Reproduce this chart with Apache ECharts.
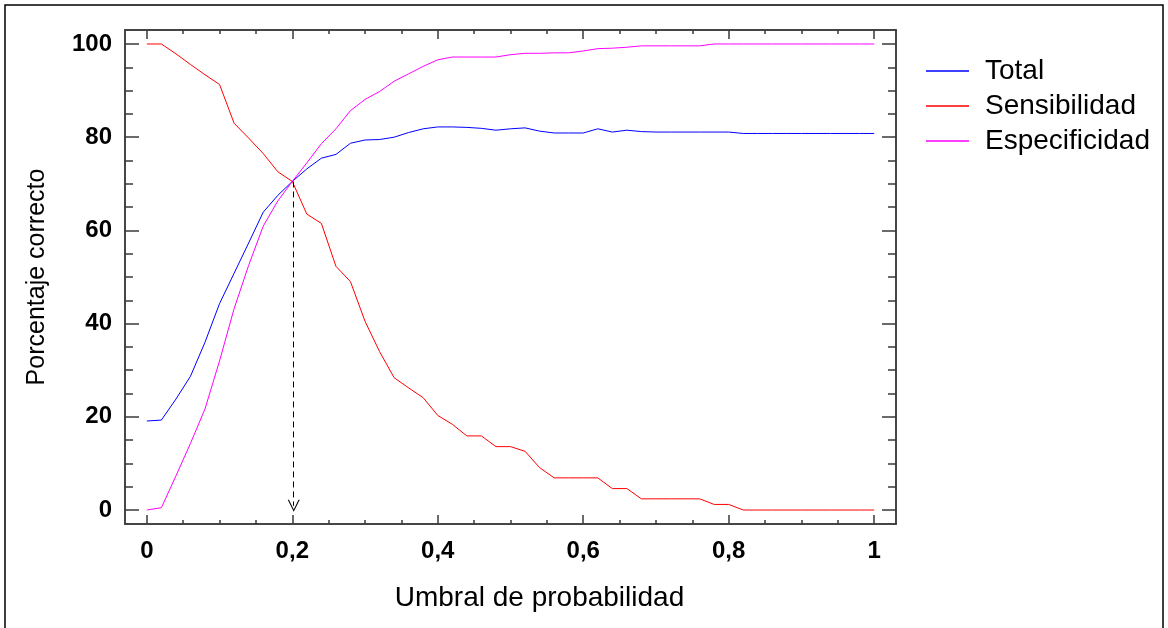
<!DOCTYPE html>
<html>
<head>
<meta charset="utf-8">
<script src="https://cdn.jsdelivr.net/npm/echarts@6/dist/echarts.min.js"></script>
<style>
  html, body { margin: 0; padding: 0; background: #fff; }
  #chart { width: 1168px; height: 628px; }
</style>
</head>
<body>
<div id="chart"></div>
<script>
var umbral = [0, 0.02, 0.04, 0.06, 0.08, 0.1, 0.12, 0.14, 0.16, 0.18,
  0.2, 0.22, 0.24, 0.26, 0.28, 0.3, 0.32, 0.34, 0.36, 0.38,
  0.4, 0.42, 0.44, 0.46, 0.48, 0.5, 0.52, 0.54, 0.56, 0.58,
  0.6, 0.62, 0.64, 0.66, 0.68, 0.7, 0.72, 0.74, 0.76, 0.78,
  0.8, 0.82, 0.84, 0.86, 0.88, 0.9, 0.92, 0.94, 0.96, 0.98, 1];

var total = [19.1, 19.3, 23.8, 28.7, 36.0, 44.3, 50.8, 57.3, 63.9, 67.5,
  70.5, 73.2, 75.5, 76.3, 78.7, 79.4, 79.5, 80.0, 81.0, 81.8,
  82.2, 82.2, 82.1, 81.9, 81.5, 81.8, 82.0, 81.3, 80.9, 80.9,
  80.9, 81.8, 81.1, 81.5, 81.2, 81.1, 81.1, 81.1, 81.1, 81.1,
  81.1, 80.8, 80.8, 80.8, 80.8, 80.8, 80.8, 80.8, 80.8, 80.8, 80.8];

var sensibilidad = [100, 100, 97.9, 95.6, 93.4, 91.3, 83.0, 79.8, 76.5, 72.6,
  70.5, 63.5, 61.5, 52.3, 49.0, 40.5, 34.0, 28.4, 26.2, 24.1,
  20.3, 18.4, 15.9, 15.9, 13.6, 13.6, 12.6, 9.1, 6.9, 6.9,
  6.9, 6.9, 4.6, 4.6, 2.4, 2.4, 2.4, 2.4, 2.4, 1.2,
  1.2, 0, 0, 0, 0, 0, 0, 0, 0, 0, 0];

var especificidad = [0, 0.5, 7.3, 14.3, 21.7, 32.0, 43.2, 52.5, 60.9, 66.3,
  70.5, 74.5, 78.6, 81.8, 85.7, 88.1, 89.8, 92.0, 93.6, 95.2,
  96.6, 97.2, 97.2, 97.2, 97.2, 97.7, 98.0, 98.0, 98.1, 98.1,
  98.5, 99.0, 99.1, 99.3, 99.6, 99.6, 99.6, 99.6, 99.6, 100,
  100, 100, 100, 100, 100, 100, 100, 100, 100, 100, 100];

// tick positions
var xMajor = [0, 0.2, 0.4, 0.6, 0.8, 1];
var xMinor = [0, 0.05, 0.1, 0.15, 0.2, 0.25, 0.3, 0.35, 0.4, 0.45, 0.5,
  0.55, 0.6, 0.65, 0.7, 0.75, 0.8, 0.85, 0.9, 0.95, 1];
var yMajor = [0, 20, 40, 60, 80, 100];
var yMinor = [0, 5, 10, 15, 20, 25, 30, 35, 40, 45, 50, 55, 60, 65, 70, 75, 80, 85, 90, 95, 100];

// dashed arrow from the crossing point down to the axis
var corte = { x: 0.202, yTop: 70.5, yBottom: 0.9 };

function pairs(ys) {
  return ys.map(function (v, i) { return [umbral[i], v]; });
}

var font = "'Liberation Sans', Arial, sans-serif";
var axisColor = '#3a3a3a';

function xAx(pos, ticks, len, labels) {
  return {
    type: 'value', position: pos, min: -0.03, max: 1.03,
    axisLine: { show: true, onZero: false, lineStyle: { color: axisColor, width: 1.5 } },
    axisTick: { show: true, inside: true, length: len, customValues: ticks, lineStyle: { color: axisColor, width: 1.5 } },
    axisLabel: labels ? {
      show: true, customValues: ticks, margin: 15, color: '#000',
      fontFamily: font, fontWeight: 'bold', fontSize: 24,
      formatter: function (v) { return String(v).replace('.', ','); }
    } : { show: false },
    splitLine: { show: false }
  };
}
function yAx(pos, ticks, len, labels) {
  return {
    type: 'value', position: pos, min: -3, max: 103,
    axisLine: { show: true, onZero: false, lineStyle: { color: axisColor, width: 1.5 } },
    axisTick: { show: true, inside: true, length: len, customValues: ticks, lineStyle: { color: axisColor, width: 1.5 } },
    axisLabel: labels ? {
      show: true, customValues: ticks, margin: 13, color: '#000',
      fontFamily: font, fontWeight: 'bold', fontSize: 24
    } : { show: false },
    splitLine: { show: false }
  };
}

var xAxes = [
  xAx('bottom', xMajor, 9, true),
  xAx('bottom', xMinor, 4, false),
  xAx('top', xMajor, 9, false),
  xAx('top', xMinor, 4, false)
];
xAxes[0].name = 'Umbral de probabilidad';
xAxes[0].nameLocation = 'middle';
xAxes[0].nameGap = 60;
xAxes[0].nameTextStyle = { fontFamily: font, fontSize: 28, color: '#000', padding: [0, 0, 0, 58] };

var yAxes = [
  yAx('left', yMajor, 14, true),
  yAx('left', yMinor, 8, false),
  yAx('right', yMajor, 14, false),
  yAx('right', yMinor, 8, false)
];
yAxes[0].name = 'Porcentaje correcto';
yAxes[0].nameLocation = 'middle';
yAxes[0].nameGap = 75;
yAxes[0].nameTextStyle = { fontFamily: font, fontSize: 25, color: '#000' };

var chart = echarts.init(document.getElementById('chart'));
chart.setOption({
  animation: false,
  backgroundColor: '#fff',
  grid: { left: 125, top: 30, right: 272, bottom: 104 },
  xAxis: xAxes,
  yAxis: yAxes,
  legend: {
    data: ['Total', 'Sensibilidad', 'Especificidad'],
    orient: 'vertical', left: 921, top: 52,
    icon: 'rect', itemWidth: 43, itemHeight: 1.5, itemGap: 7,
    textStyle: { fontFamily: font, fontSize: 28, color: '#000', padding: [0, 0, 0, 11] }
  },
  graphic: [{
    type: 'rect', silent: true,
    shape: { x: 5, y: 5, width: 1158, height: 640 },
    style: { fill: 'none', stroke: '#000', lineWidth: 1.5 }
  }],
  series: [{
    name: 'Total', type: 'line', symbol: 'none', color: '#0000ff',
    lineStyle: { width: 1 }, data: pairs(total)
  }, {
    name: 'Sensibilidad', type: 'line', symbol: 'none', color: '#ff0000',
    lineStyle: { width: 1 }, data: pairs(sensibilidad)
  }, {
    name: 'Especificidad', type: 'line', symbol: 'none', color: '#ff00ff',
    lineStyle: { width: 1 }, data: pairs(especificidad)
  }, {
    name: 'corte', type: 'line', data: [],
    markLine: {
      silent: true, animation: false,
      symbol: ['none', 'path://M0,10 L5,0 L10,10 L9,10 L5,2 L1,10 Z'],
      symbolSize: [12, 12],
      label: { show: false },
      lineStyle: { color: '#000', width: 1, type: [6, 4] },
      itemStyle: { color: '#000' },
      data: [[{ coord: [corte.x, corte.yTop] }, { coord: [corte.x, corte.yBottom] }]]
    }
  }]
});
</script>
</body>
</html>
